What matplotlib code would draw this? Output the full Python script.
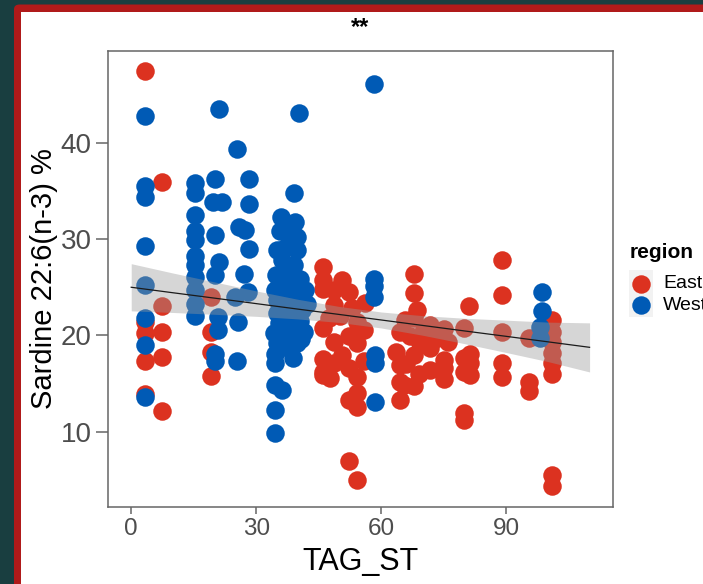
import numpy as np
import matplotlib.pyplot as plt
from matplotlib.patches import Rectangle, FancyBboxPatch
from matplotlib.lines import Line2D

plt.rcParams['font.family'] = ['Liberation Sans', 'DejaVu Sans']

# data (TAG_ST, Sardine 22:6(n-3) %)
east_x = [3.4, 3.4, 3.4, 3.4, 3.4,
          7.5, 7.5, 7.5, 7.5, 7.5,
          19.2, 19.2, 19.2, 19.2,
          46.0, 46.0, 46.0, 46.0, 46.0, 46.0, 46.0,
          48.6, 48.6, 48.6, 48.6, 50.0, 47.5, 50.5, 47.8, 53.0, 56.0, 50.5,
          52.2, 52.2, 52.2, 52.2, 52.2,
          54.3, 54.3, 54.3, 54.3, 54.3, 54.3, 55.8, 55.8,
          64.5, 64.5, 64.5, 64.5, 65.8, 63.5, 66.0, 69.0, 65.5, 70.0, 68.5,
          67.8, 67.8, 67.8, 67.0, 67.8, 67.8, 69.4,
          71.8, 71.8, 71.8, 73.0, 76.0,
          75.0, 75.0, 75.0, 75.0,
          81.0, 79.8, 79.8, 79.8, 79.8, 79.8, 81.4, 81.4, 81.4,
          89.0, 89.0, 89.0, 89.0, 89.0,
          95.4, 95.4, 95.4,
          101.0, 101.0, 101.0, 101.0, 101.0, 101.0, 101.0, 101.0]
east_y = [47.5, 21.4, 20.2, 17.3, 13.9,
          35.9, 23.05, 20.3, 17.8, 12.15,
          24.0, 20.3, 18.3, 15.8,
          27.1, 25.8, 24.8, 20.8, 17.5, 16.2, 15.9,
          24.7, 23.2, 19.3, 17.1, 22.0, 21.8, 18.0, 15.6, 22.8, 23.4, 25.8,
          24.5, 19.9, 16.6, 13.3, 6.9,
          21.4, 19.2, 15.7, 14.0, 12.6, 5.0, 20.6, 17.3,
          20.4, 16.9, 15.2, 13.3, 21.6, 18.3, 17.0, 16.0, 14.8, 20.4, 22.6,
          26.4, 24.4, 21.8, 19.9, 18.0, 14.7, 19.2,
          21.1, 18.7, 16.4, 19.6, 19.3,
          20.7, 17.4, 16.6, 15.5,
          23.1, 20.8, 17.7, 16.2, 11.9, 11.2, 18.1, 17.1, 15.9,
          27.8, 24.2, 20.4, 17.1, 15.7,
          19.7, 15.2, 14.2,
          21.6, 20.3, 19.3, 18.2, 17.1, 16.0, 5.5, 4.3]

west_x = [3.4, 3.4, 3.4, 3.4, 3.4, 3.4, 3.4, 3.4,
          15.4, 15.4, 15.4, 15.4, 15.4, 15.4, 15.4, 15.4, 15.4, 15.4, 15.4,
          20.2, 19.7, 21.8, 20.2, 21.0, 20.2, 20.8, 20.8, 20.2, 20.2, 21.1,
          25.5, 28.3, 28.3, 25.8, 27.4, 28.3, 27.0, 28.1, 25.0, 25.7, 25.5,
          39.1, 39.4, 35.8, 38.6, 39.8, 35.0, 37.7, 39.8, 36.2, 35.8,
          38.6, 40.6, 34.6, 37.4, 41.8, 35.0, 38.9, 42.2, 35.0, 39.8,
          34.2, 37.7, 41.4, 35.0, 39.8, 34.6, 38.9, 34.6, 34.6, 36.2,
          34.6, 34.6, 40.2,
          36.0, 37.5, 38.0, 36.5, 37.0, 39.0, 34.8, 36.0, 38.0, 40.0,
          36.5, 41.0, 37.5, 35.5, 38.5, 40.5, 36.0, 40.8, 37.0,
          58.2, 58.2, 58.2, 58.2, 58.6, 58.6, 58.6,
          98.6, 98.6, 98.2, 98.2]
west_y = [42.8, 35.5, 34.4, 29.3, 25.2, 21.8, 19.0, 13.6,
          35.8, 34.75, 32.5, 30.8, 29.9, 28.2, 27.3, 26.1, 24.7, 23.3, 22.0,
          36.3, 33.9, 33.9, 30.4, 27.6, 26.3, 21.9, 20.6, 18.1, 17.3, 43.5,
          39.4, 36.3, 33.7, 31.3, 31.0, 29.0, 26.4, 24.5, 24.0, 21.4, 17.3,
          34.8, 31.8, 30.8, 30.9, 30.2, 28.9, 29.4, 28.9, 27.8, 25.75,
          26.1, 25.9, 24.7, 24.7, 24.7, 23.7, 23.7, 23.3, 22.3, 21.9,
          20.2, 20.2, 20.4, 19.2, 19.2, 18.1, 17.6, 17.1, 14.85, 14.3,
          12.25, 9.85, 43.1,
          32.3, 31.6, 29.8, 29.0, 27.0, 27.3, 26.3, 25.3, 25.0, 24.5,
          23.9, 22.6, 22.5, 21.3, 21.0, 21.5, 19.8, 19.6, 18.8,
          46.1, 25.9, 25.1, 24.0, 18.0, 17.1, 13.1,
          24.5, 22.5, 20.9, 19.7]

# fitted line and its 95% band
fit_x = [0, 10, 20, 30, 40, 50, 60, 70, 80, 90, 100, 110]
fit_y = [25.0, 24.43, 23.87, 23.30, 22.73, 22.17, 21.60, 21.03, 20.46, 19.90, 19.33, 18.76]
fit_lo = [22.55, 22.38, 22.19, 21.98, 21.71, 21.34, 20.77, 20.01, 19.14, 18.22, 17.28, 16.2]
fit_hi = [27.45, 26.48, 25.55, 24.62, 23.75, 23.00, 22.43, 22.05, 21.78, 21.58, 21.38, 21.3]

regions = ['East', 'West']
colors = ['#DC3220', '#005AB5']

fig = plt.figure(figsize=(7.03, 5.84), dpi=100)
fig.patch.set_facecolor('#193e40')

# screenshot frame: red border and white page
fig.add_artist(FancyBboxPatch((14/703, -0.2), 2, 1.2 - 4.5/584,
                              boxstyle='round,pad=0,rounding_size=0.008',
                              transform=fig.transFigure, facecolor='#b01a1a',
                              edgecolor='none', zorder=-3))
fig.add_artist(Rectangle((21/703, -0.2), 2, 1.2 - 12/584,
                         transform=fig.transFigure, facecolor='white',
                         edgecolor='none', zorder=-2))

ax = fig.add_axes([108.3/703, 1 - 506.7/584, (612.5 - 108.3)/703, (506.7 - 50.5)/584])

ax.scatter(east_x, east_y, s=178, color=colors[0], linewidths=0, zorder=2)
ax.scatter(west_x, west_y, s=178, color=colors[1], linewidths=0, zorder=2)

ax.fill_between(fit_x, fit_lo, fit_hi, color='#999999', alpha=0.4, linewidth=0, zorder=3)
ax.plot(fit_x, fit_y, color='#1a1a1a', linewidth=0.9, zorder=4)

ax.set_xlim(-5.5, 115.5)
ax.set_ylim(2.2, 49.6)
ax.set_xticks([0, 30, 60, 90])
ax.set_yticks([10, 20, 30, 40])
for sp in ax.spines.values():
    sp.set_color('#666666')
    sp.set_linewidth(1.1)
ax.tick_params(color='#666666', width=1.1, labelcolor='#4d4d4d', pad=3)
ax.tick_params(axis='x', length=5, labelsize=17.5)
ax.tick_params(axis='y', length=9, labelsize=20)
ax.set_xlabel('TAG_ST', fontsize=22, labelpad=5)
ax.set_ylabel('Sardine 22:6(n-3) %', fontsize=21, va='center')
ax.yaxis.set_label_coords(-0.128, 0.5)

fig.text(360/703, 1 - 34/584, '**', ha='center', va='baseline',
         fontsize=17, fontweight='bold')

# legend, drawn by hand so it can run off the right edge
fig.text(630/703, 1 - 258/584, 'region', ha='left', va='baseline',
         fontsize=15, fontweight='bold')
fig.add_artist(Rectangle((629/703, 1 - 317/584), 24/703, 47/584,
                         transform=fig.transFigure, facecolor='#f2f2f2',
                         edgecolor='none'))
for i, lab in enumerate(regions):
    yk = 1 - (283.5 + 21.5 * i)/584
    fig.add_artist(Line2D([640.7/703], [yk], marker='o', markersize=13.3,
                          color=colors[i], markeredgewidth=0,
                          transform=fig.transFigure))
    fig.text(663/703, yk, lab, ha='left', va='center', fontsize=14)

fig.savefig('out.png', dpi=100, facecolor=fig.get_facecolor())
